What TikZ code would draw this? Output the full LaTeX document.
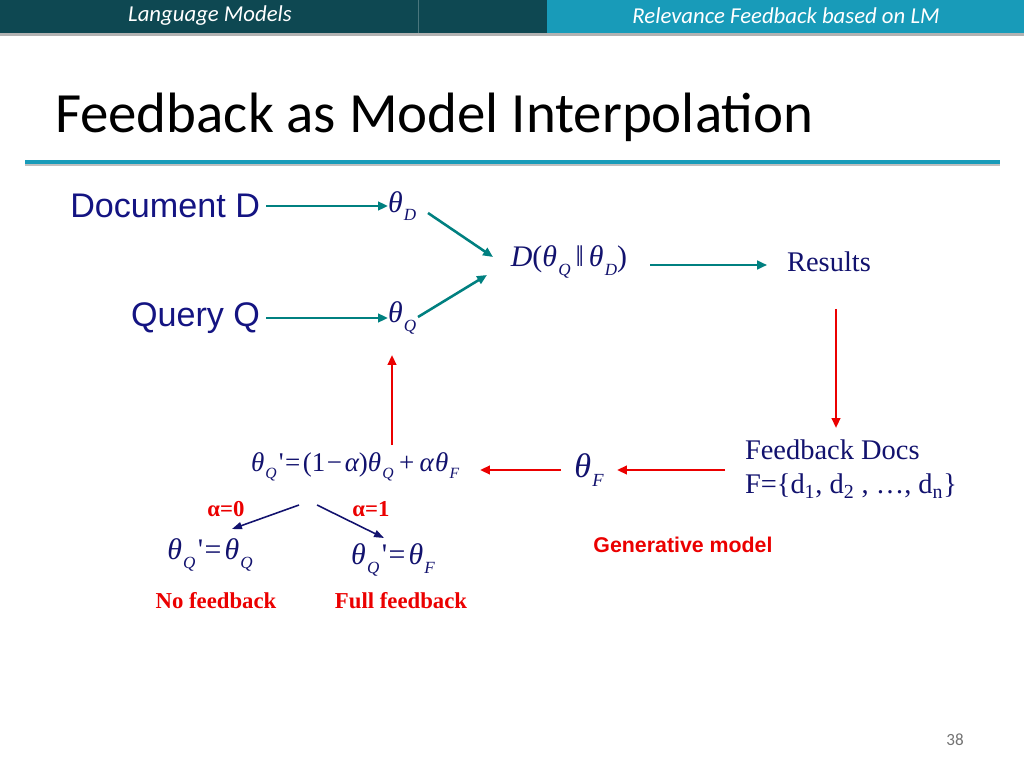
\documentclass[tikz,border=0pt]{standalone}
\usepackage{fontspec}
\setmainfont{Liberation Serif}
\newfontfamily\calib{Carlito}
\newfontfamily\arialf{Liberation Sans}
\usetikzlibrary{arrows.meta}
\definecolor{hdark}{RGB}{14,72,82}
\definecolor{hlight}{RGB}{24,155,185}
\definecolor{navyt}{RGB}{18,18,110}
\definecolor{docblue}{RGB}{20,20,130}
\definecolor{tealar}{RGB}{0,128,128}
\definecolor{redar}{RGB}{235,0,0}
\newcommand\sbs[1]{\raisebox{-0.28em}{\fontsize{12}{12}\selectfont\itshape #1}}
\newcommand\sbsf[1]{\raisebox{-0.28em}{\fontsize{11}{11}\selectfont\itshape #1}}
\newcommand\sbsb[1]{\raisebox{-0.28em}{\fontsize{13}{13}\selectfont\itshape #1}}
\newcommand\thit{{\itshape θ}\kern0.04em}
\newcommand\prm{\kern0.08em\textquotesingle}
\tikzset{
  every node/.style={inner sep=0pt, outer sep=0pt},
  sanslbl/.style={font=\arialf\fontsize{24}{28}\selectfont, text=docblue},
  mth/.style={font=\fontsize{21}{24}\selectfont, text=navyt},
  mthf/.style={font=\fontsize{19}{22}\selectfont, text=navyt},
  serif20/.style={font=\fontsize{20}{24}\selectfont, text=navyt},
  redlbl/.style={font=\bfseries\fontsize{16}{19}\selectfont, text=redar},
  tarrow/.style={draw=tealar, line width=1.8pt, -{Triangle[length=7pt,width=6pt]}},
  rarrow/.style={draw=redar, line width=1.6pt, -{Triangle[length=7pt,width=6pt]}},
  narrow/.style={draw=navyt, line width=1.1pt, -{Triangle[length=7pt,width=5pt]}},
}
\begin{document}
\begin{tikzpicture}[x=0.703125pt, y=-0.703125pt]
\useasboundingbox (0,0) rectangle (1024,768);
\fill[white] (0,0) rectangle (1024,768);
% header
\fill[hdark] (0,0) rectangle (547,33);
\fill[hlight] (547,0) rectangle (1024,33);
\draw[white!25!hdark, line width=0.5pt] (418,0) -- (418,33);
\fill[black!30] (0,33) rectangle (1024,36);
\node[font=\calib\itshape\fontsize{16}{18}\selectfont, text=white] (hl) at (210,16) {Language Models};
\node[font=\calib\itshape\fontsize{16}{18}\selectfont, text=white] (hr) at (786,16) {Relevance Feedback based on LM};
% title
\node[anchor=base west, font=\calib\fontsize{40}{44}\selectfont, text=black] (title) at (55,133) {Feedback as Model Interpolation};
\fill[black!25] (25,162) rectangle (1000,166);
\fill[hlight] (25,160) rectangle (1000,164);
% top part
\node[sanslbl, anchor=east] (doc) at (260,206) {Document D};
\node[sanslbl, anchor=east] (qry) at (260,318) {Query Q};
\node[mth, anchor=west] (thd) at (388,206) {\thit\sbs{D}};
\node[mth, anchor=west] (thq) at (388,318) {\thit\sbs{Q}};
\node[mth] (kl) at (569,262) {\itshape D\upshape(\thit\sbs{Q}\,‖\,\thit\sbs{D}\upshape)};
\node[serif20] (res) at (829,262) {Results};
\draw[tarrow] (doc.east) ++(6,0) coordinate (da) -- (thd.west);
\draw[tarrow] (qry.east) ++(6,0) coordinate (qa) -- (thq.west);
\coordinate (d1) at (428,213); \coordinate (d2) at (493,257);
\coordinate (q1) at (418,317); \coordinate (q2) at (487,275);
\draw[tarrow] (d1) -- (d2);
\draw[tarrow] (q1) -- (q2);
\coordinate (ka) at (650,265);
\draw[tarrow] (ka) -- ([shift={(-20,3)}]res.west);
% feedback loop
\node[serif20, align=left, anchor=west] (fb) at (745,469) {Feedback Docs\\F=\{d\textsubscript{1}, d\textsubscript{2} , …, d\textsubscript{n}\}};
\draw[rarrow] (836,309) -- (836,428);
\node[font=\fontsize{24}{26}\selectfont, text=navyt] (thf) at (589,470) {\thit\sbsb{F}};
\draw[rarrow] (725,470) -- (617,470);
\node[mthf, anchor=west] (form) at (251,467) {\thit\sbsf{Q}\prm\kern0.05em=\kern0.1em(1\kern0.05em−\kern0.1em{\itshape α})\thit\sbsf{Q}\kern0.2em+\kern0.2em{\itshape α}\kern0.05em\thit\sbsf{F}};
\draw[rarrow] (561,470) -- (480,470);
\draw[rarrow] (392,445) -- (392,355);
% alpha branches
\coordinate (bl) at (299,505); \coordinate (br) at (317,505);
\draw[narrow] (bl) -- (232,529);
\draw[narrow] (br) -- (384,538);
\node[redlbl] (a0) at (226,509) {α=0};
\node[redlbl] (a1) at (371,509) {α=1};
\node[mth] (nof) at (210,555) {\thit\sbs{Q}\prm\kern0.05em=\kern0.1em\thit\sbs{Q}};
\node[mth] (fuf) at (393,560) {\thit\sbs{Q}\prm\kern0.05em=\kern0.1em\thit\sbs{F}};
\node[redlbl] (nofl) at (216,601) {No feedback};
\node[redlbl] (fufl) at (401,601) {Full feedback};
\node[font=\arialf\bfseries\fontsize{15}{18}\selectfont, text=redar] (gen) at (683,545) {Generative model};
\node[font=\calib\fontsize{12}{14}\selectfont, text=black!55] (pg) at (955,740) {38};
\end{tikzpicture}
\end{document}
